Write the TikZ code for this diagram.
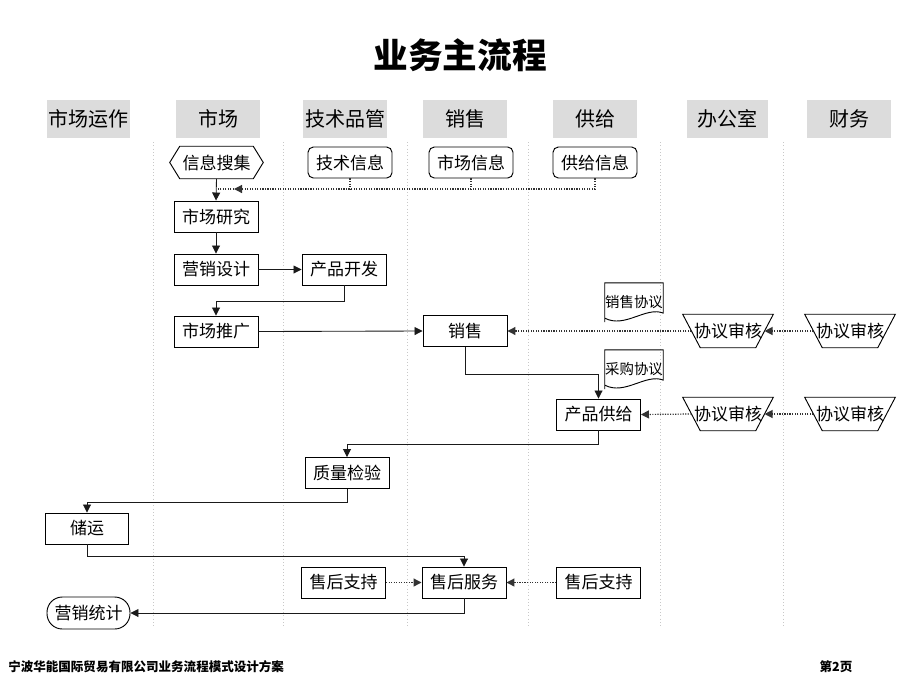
\documentclass[tikz,border=0pt]{standalone}
\usepackage{fontspec}
\setmainfont{Noto Sans CJK SC}
\usetikzlibrary{arrows.meta,calc}
\definecolor{hdrfill}{HTML}{DCDCDC}
\definecolor{lanec}{HTML}{C8C8C8}
\definecolor{dotc}{HTML}{333333}
\definecolor{linec}{HTML}{1A1A1A}
\begin{document}
\begin{tikzpicture}[x=0.75pt,y=-0.75pt,
  every node/.style={inner sep=0pt},
  box/.style={draw, line width=0.7pt, minimum width=63pt, minimum height=23.25pt, font=\fontsize{12.75}{14}\selectfont},
  rbox/.style={box, rounded corners=4pt},
  hdr/.style={fill=hdrfill, minimum width=63pt, minimum height=29pt, font=\fontsize{15}{17}\selectfont},
  plain/.style={draw=none, minimum width=54.4pt, minimum height=24.75pt, font=\fontsize{12.75}{14}\selectfont},
  docnode/.style={draw=none, minimum width=43.5pt, minimum height=29pt, font=\fontsize{10.8}{12}\selectfont},
  arr/.style={-{Triangle[length=6pt,width=6pt]}, line width=0.65pt, draw=linec},
  dotline/.style={densely dotted, line width=0.9pt, draw=dotc},
  darr/.style={dotline, -{Triangle[length=6pt,width=6pt]}},
  lanel/.style={dotted, line width=0.5pt, draw=lanec}]
\useasboundingbox (0,0) rectangle (920,690);
\fill[white] (0,0) rectangle (920,690);

% title
\node[font=\bfseries\fontsize{26}{30}\selectfont] (title) at (460,55) {业务主流程};

% lanes
\foreach \lx in {153,283,407,528,660,783}{\draw[lanel] (\lx,142) -- (\lx,628);}

% headers
\node[hdr, minimum width=62pt] (h1) at (88.5,119) {市场运作};
\node[hdr] (h2) at (218,119) {市场};
\node[hdr] (h3) at (345,119) {技术品管};
\node[hdr] (h4) at (465,119) {销售};
\node[hdr] (h5) at (595,119) {供给};
\node[hdr, minimum width=61pt] (h6) at (727.5,119) {办公室};
\node[hdr] (h7) at (849,119) {财务};

% hexagon
\node[plain, minimum width=54.75pt, minimum height=24pt] (info) at (216.5,162.5) {信息搜集};
\draw[line width=0.7pt] (info.north west) -- (info.north east) -- ([xshift=7.5pt]info.east) -- (info.south east) -- (info.south west) -- ([xshift=-7.5pt]info.west) -- cycle;

\node[rbox] (jishu) at (350,162.5) {技术信息};
\node[rbox] (scxx) at (471,162.5) {市场信息};
\node[rbox] (gjxx) at (595,162.5) {供给信息};

\node[box] (yanjiu) at (216,216.5) {市场研究};
\node[box] (yingxiao) at (216,269.5) {营销设计};
\node[box] (kaifa) at (344,269.5) {产品开发};
\node[box] (tuiguang) at (216,331.5) {市场推广};
\node[box] (xiaoshou) at (465,331) {销售};
\node[box] (gongyi) at (598.5,414.5) {产品供给};
\node[box] (zhiliang) at (347,473) {质量检验};
\node[box, minimum width=62.25pt] (chuyun) at (87,528.5) {储运};
\node[box] (fuwu) at (464,582.5) {售后服务};
\node[box] (zhichi1) at (343.5,582.5) {售后支持};
\node[box] (zhichi2) at (598.5,582.5) {售后支持};
\node[box, minimum width=62.25pt, minimum height=24pt, rounded corners=11.5pt] (tongji) at (88.5,613) {营销统计};

% documents
\node[docnode] (xsxy) at (634,302.5) {销售协议};
\draw[line width=0.7pt] (xsxy.south west) -- (xsxy.north west) -- (xsxy.north east) -- ([yshift=6.75pt]xsxy.south east)
  .. controls ([xshift=-13pt,yshift=12pt]xsxy.south east) and ([xshift=15pt,yshift=-5pt]xsxy.south west) .. ([yshift=3pt]xsxy.south west) -- cycle;
\node[docnode] (cgxy) at (634,369.5) {采购协议};
\draw[line width=0.7pt] (cgxy.south west) -- (cgxy.north west) -- (cgxy.north east) -- ([yshift=6.75pt]cgxy.south east)
  .. controls ([xshift=-13pt,yshift=12pt]cgxy.south east) and ([xshift=15pt,yshift=-5pt]cgxy.south west) .. ([yshift=3pt]cgxy.south west) -- cycle;

% trapezoids
\foreach \nm/\cx/\cy in {sh1a/728/331, sh1b/850/331, sh2a/728/414, sh2b/850/414}{
  \node[plain] (\nm) at (\cx,\cy) {协议审核};
  \draw[line width=0.7pt] ([xshift=-6.6pt]\nm.north west) -- ([xshift=6.6pt]\nm.north east) -- ([xshift=-6.6pt]\nm.south east) -- ([xshift=6.6pt]\nm.south west) -- cycle;
}

% connectors
\coordinate (jt) at (234,189);
\draw[arr] (info.south) -- (yanjiu.north);
\draw[darr] (gjxx.south) |- (jt);
\draw[dotline] (jt) -- (info.south |- jt);
\draw[dotline] (jishu.south) -- (jishu.south |- jt);
\draw[dotline] (scxx.south) -- (scxx.south |- jt);
\draw[arr] (yanjiu.south) -- (yingxiao.north);
\draw[arr] (yingxiao.east) -- (kaifa.west);
\draw[arr] (kaifa.south) -- ++(0,16) -| (tuiguang.north);
\draw[arr] (tuiguang.east) -- (xiaoshou.west);
\draw[darr] (sh1b.west) -- (sh1a.east);
\draw[darr] (sh1a.west) -- (xiaoshou.east);
\draw[arr] (xiaoshou.south) -- ++(0,27) -| (gongyi.north);
\draw[darr] (sh2b.west) -- (sh2a.east);
\draw[darr] (sh2a.west) -- (gongyi.east);
\draw[arr] (gongyi.south) -- ++(0,14) -| (zhiliang.north);
\draw[arr] (zhiliang.south) -- ++(0,13) -| (chuyun.north);
\draw[arr] (chuyun.south) -- ++(0,12) -| (fuwu.north);
\draw[darr] (zhichi1.east) -- (fuwu.west);
\draw[darr] (zhichi2.west) -- (fuwu.east);
\draw[arr] (fuwu.south) |- (tongji.east);

% footer
\node[anchor=west, font=\bfseries\fontsize{9.4}{11}\selectfont] (foot) at (8,667) {宁波华能国际贸易有限公司业务流程模式设计方案};
\node[font=\bfseries\fontsize{9.4}{11}\selectfont] (page) at (836,667) {第2页};
\end{tikzpicture}
\end{document}
